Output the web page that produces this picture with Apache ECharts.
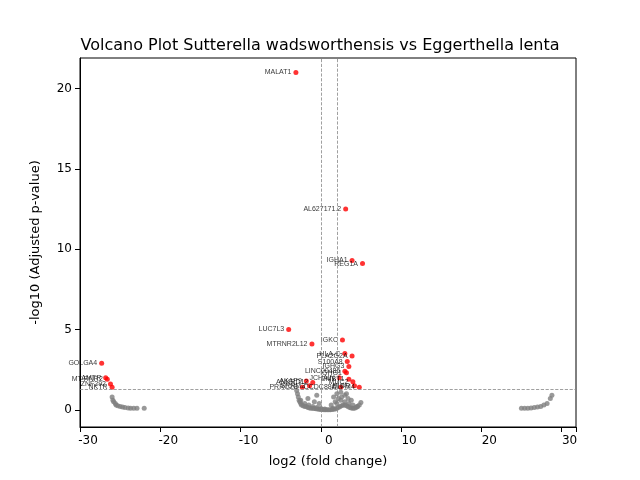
<!DOCTYPE html>
<html lang="en">
<head>
<meta charset="UTF-8">
<title>Volcano Plot</title>
<style>
  html, body, #main { width: 100%; height: 100%; margin: 0; padding: 0; background: #fff; }
</style>
<script src="https://cdn.jsdelivr.net/npm/echarts@6/dist/echarts.min.js"></script>
</head>
<body>
<div id="main"></div>
<script>
  // significant genes: [log2fc, -log10 padj]
  var sigNames = ['MALAT1', 'AL627171.2', 'IGHA1', 'REG1A', 'LUC7L3', 'MTRNR2L12', 'IGKC',
    'HLA-C', 'PLA2G2A', 'S100A8', 'IGHG3', 'LINC00486', 'IGHG1', 'JCHAIN', 'DMBT1', 'MUC2',
    'AKAP9', 'SRRM2', 'PRRC2B', 'ANKRD12', 'CCDC88A', 'OLFM4', 'PIGR',
    'GOLGA4', 'AMTR', 'MT-RNR2', 'ZNF292', 'NKTR'];
  var sigX = [-4.1, 2.1, 2.9, 4.2, -5.0, -2.1, 1.7,
    2.0, 2.9, 2.3, 2.5, 2.0, 2.2, 1.3, 2.5, 3.0,
    -2.8, -2.4, -3.3, -2.0, 1.5, 3.8, 3.2,
    -28.3, -27.8, -27.6, -27.2, -27.0];
  var sigY = [21.0, 12.5, 9.3, 9.1, 5.0, 4.1, 4.35,
    3.5, 3.35, 3.0, 2.7, 2.4, 2.3, 2.0, 1.9, 1.75,
    1.8, 1.5, 1.4, 1.7, 1.4, 1.4, 1.5,
    2.9, 2.0, 1.9, 1.6, 1.4];

  // non-significant genes
  var nsX = [-27.0, -26.9, -26.8, -26.6, -26.5, -26.3, -26.0, -25.7, -25.4, -25.0, -24.7, -24.3, -23.9, -23.0,
    24.0, 24.4, 24.8, 25.2, 25.6, 26.0, 26.4, 26.8, 27.2, 27.6, 27.8,
    -4.0, -3.9, -3.8, -3.7, -3.6, -3.5, -3.4, -3.2, -3.0, -2.8, -2.6, -2.4, -2.2, -2.0, -1.8, -1.6, -1.4, -1.2, -1.0,
    -0.8, -0.6, -0.4, -0.2, 0.0, 0.2, 0.4, 0.6, 0.8, 1.0, 1.2, 1.4, 1.6, 1.8, 2.0, 2.2, 2.4, 2.6, 2.8, 3.0, 3.2, 3.4, 3.6, 3.8, 4.0,
    -3.5, -3.0, -2.5, -2.0, -1.5, -1.0, -0.5, 0.5, 1.0, 1.5, 2.0, 2.5, 3.0, 3.5,
    -1.8, -1.5, 0.3, 0.8, 1.2, 1.6, 2.0, 2.4, 2.8, 1.0, 1.5, 2.2, 0.6, -2.6, -1.2];
  var nsY = [0.8, 0.6, 0.5, 0.4, 0.3, 0.25, 0.2, 0.18, 0.15, 0.12, 0.1, 0.1, 0.1, 0.1,
    0.1, 0.1, 0.1, 0.12, 0.15, 0.18, 0.2, 0.3, 0.4, 0.7, 0.9,
    1.2, 1.0, 0.8, 0.6, 0.5, 0.4, 0.3, 0.25, 0.2, 0.2, 0.15, 0.12, 0.1, 0.1, 0.08, 0.06, 0.05, 0.03, 0.02,
    0.02, 0.01, 0.0, 0.0, 0.0, 0.01, 0.02, 0.03, 0.05, 0.1, 0.15, 0.2, 0.25, 0.3, 0.3, 0.25, 0.2, 0.15, 0.12, 0.1, 0.1, 0.15, 0.2, 0.3, 0.45,
    0.6, 0.4, 0.3, 0.2, 0.15, 0.1, 0.05, 0.1, 0.4, 0.6, 0.5, 0.4, 0.3, 0.2,
    0.5, 0.9, 0.3, 0.5, 0.7, 0.8, 0.9, 0.7, 0.6, 1.0, 1.1, 1.0, 0.8, 0.7, 0.4];

  var sigData = sigX.map(function (x, i) { return { name: sigNames[i], value: [x, sigY[i]] }; });
  var nsData = nsX.map(function (x, i) { return [x, nsY[i]]; });

  var chart = echarts.init(document.getElementById('main'));
  chart.setOption({
    animation: false,
    title: {
      text: 'Volcano Plot Sutterella wadsworthensis vs Eggerthella lenta',
      left: 'center', top: 33,
      textStyle: { fontSize: 16, fontWeight: 'normal', color: '#000', fontFamily: 'DejaVu Sans' }
    },
    grid: { left: 80, right: 64, top: 58, bottom: 53, show: true, borderColor: '#000', borderWidth: 1 },
    xAxis: {
      type: 'value', min: -31, max: 30.8, interval: 10,
      name: 'log2 (fold change)', nameLocation: 'middle', nameGap: 28,
      nameTextStyle: { fontSize: 13, color: '#000', fontFamily: 'DejaVu Sans' },
      axisLine: { onZero: false, lineStyle: { color: '#000' } },
      axisTick: { show: true, lineStyle: { color: '#000' } },
      axisLabel: { color: '#000', fontSize: 12, fontFamily: 'DejaVu Sans',
        customValues: [-30, -20, -10, 0, 10, 20, 30] },
      splitLine: { show: false }
    },
    yAxis: {
      type: 'value', min: -1.07, max: 21.9,
      name: '-log10 (Adjusted p-value)', nameLocation: 'middle', nameGap: 38,
      nameTextStyle: { fontSize: 13, color: '#000', fontFamily: 'DejaVu Sans' },
      axisLine: { show: true, onZero: false, lineStyle: { color: '#000' } },
      axisTick: { show: true, customValues: [0, 5, 10, 15, 20], lineStyle: { color: '#000' } },
      axisLabel: { color: '#000', fontSize: 12, fontFamily: 'DejaVu Sans',
        customValues: [0, 5, 10, 15, 20] },
      splitLine: { show: false }
    },
    series: [
      {
        type: 'scatter', data: nsData, symbolSize: 5,
        itemStyle: { color: '#808080' },
        markLine: {
          silent: true, symbol: 'none', label: { show: false },
          lineStyle: { color: '#888', type: 'dashed', width: 0.8 },
          data: [{ xAxis: -1 }, { xAxis: 1 }, { yAxis: 1.3 }]
        }
      },
      {
        type: 'scatter', data: sigData, symbolSize: 5,
        itemStyle: { color: '#ff0000', opacity: 0.8 },
        label: { show: true, position: 'left', distance: 2, formatter: '{b}', fontSize: 7, color: '#000' },
        labelLayout: { hideOverlap: false }
      }
    ]
  });
</script>
</body>
</html>
